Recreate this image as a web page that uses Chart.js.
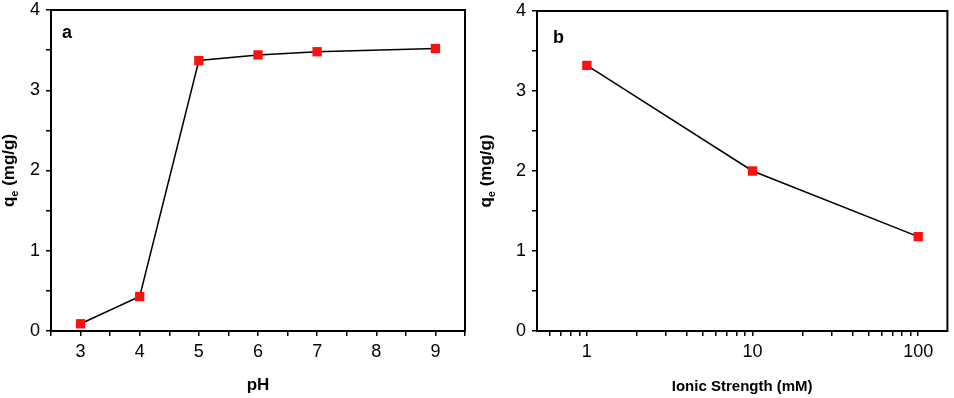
<!DOCTYPE html>
<html>
<head>
<meta charset="utf-8">
<script src="https://cdn.jsdelivr.net/npm/chart.js@4.4.1/dist/chart.umd.min.js"></script>
<style>
html, body { margin: 0; padding: 0; background: #fff; }
#wrap { position: relative; width: 954px; height: 398px; }
.box { position: absolute; top: 0; height: 398px; }
#boxA { left: 0; width: 480px; }
#boxB { left: 480px; width: 474px; }
</style>
</head>
<body>
<div id="wrap">
  <div class="box" id="boxA"><canvas id="chartA"></canvas></div>
  <div class="box" id="boxB"><canvas id="chartB"></canvas></div>
</div>
<script>
// panel a: qe vs pH
var phValues = [3, 4, 5, 6, 7, 9];
var qePh = [0.09, 0.43, 3.37, 3.44, 3.48, 3.52];
// panel b: qe vs ionic strength (log axis)
var ionicValues = [1, 10, 100];
var qeIonic = [3.32, 2.00, 1.18];
// tick labels
var yTickLabels = [0, 1, 2, 3, 4];
var phTickLabels = [3, 4, 5, 6, 7, 8, 9];
var ionicTickLabels = [1, 10, 100];

var FONT = '"Liberation Sans", Arial, sans-serif';

function toPoints(xs, ys) {
  return xs.map(function (x, i) { return { x: x, y: ys[i] }; });
}

// frame, panel letter and the y title with subscript
function decor(letter, lx, ly, titleX) {
  return {
    id: 'decor',
    afterDraw: function (chart) {
      var a = chart.chartArea;
      var ctx = chart.ctx;
      ctx.save();
      ctx.strokeStyle = '#000';
      ctx.lineWidth = 2;
      ctx.strokeRect(a.left, a.top, a.right - a.left, a.bottom - a.top);

      ctx.fillStyle = '#000';
      ctx.textBaseline = 'alphabetic';
      ctx.font = 'bold 18px ' + FONT;
      ctx.fillText(letter, a.left + lx, a.top + ly);

      // y axis title: q_e (mg/g)
      var big = 'bold 17px ' + FONT;
      var small = 'bold 11px ' + FONT;
      ctx.font = big;
      var wq = ctx.measureText('q').width;
      var wr = ctx.measureText(' (mg/g)').width;
      ctx.font = small;
      var we = ctx.measureText('e').width;
      var total = wq + we + wr;
      ctx.translate(titleX, (a.top + a.bottom) / 2);
      ctx.rotate(-Math.PI / 2);
      var x0 = -total / 2;
      ctx.font = big;
      ctx.fillText('q', x0, 0);
      ctx.font = small;
      ctx.fillText('e', x0 + wq, 4);
      ctx.font = big;
      ctx.fillText(' (mg/g)', x0 + wq + we, 0);
      ctx.restore();
    }
  };
}

function yScale(width) {
  return {
    type: 'linear',
    min: 0,
    max: 4,
    ticks: {
      stepSize: 0.5,
      color: '#000',
      padding: 6,
      font: { family: FONT, size: 18 },
      callback: function (v) { return yTickLabels.indexOf(v) >= 0 ? String(v) : ''; }
    },
    grid: { drawOnChartArea: false, color: '#000', lineWidth: 1.5, tickLength: 5 },
    border: { display: false },
    afterFit: function (s) {
      s.width = width;
      s.paddingTop = 0;
      s.paddingBottom = 0;
    }
  };
}

function xTitle(text, size) {
  return {
    display: true,
    text: text,
    color: '#000',
    font: { family: FONT, size: size, weight: 'bold' },
    padding: { top: 0, bottom: 2 }
  };
}

function fitX(s) {
  s.height = 67;
  s.paddingLeft = 0;
  s.paddingRight = 0;
}

var dataset = function (pts) {
  return {
    data: pts,
    borderColor: '#000',
    borderWidth: 1.5,
    backgroundColor: '#ff1010',
    pointBackgroundColor: '#ff1010',
    pointBorderColor: '#ff1010',
    pointBorderWidth: 0,
    pointStyle: 'rect',
    pointRadius: 6.6,
    pointHoverRadius: 6.6,
    tension: 0
  };
};

new Chart(document.getElementById('chartA'), {
  type: 'line',
  data: { datasets: [dataset(toPoints(phValues, qePh))] },
  options: {
    responsive: true,
    maintainAspectRatio: false,
    animation: false,
    layout: { padding: { top: 10, right: 15, left: 0, bottom: 0 } },
    plugins: { legend: { display: false }, tooltip: { enabled: false } },
    scales: {
      x: {
        type: 'linear',
        min: 2.5,
        max: 9.5,
        ticks: {
          stepSize: 0.5,
          color: '#000',
          padding: 5,
          maxRotation: 0,
          autoSkip: false,
          font: { family: FONT, size: 18 },
          callback: function (v) { return phTickLabels.indexOf(v) >= 0 ? String(v) : ''; }
        },
        grid: { drawOnChartArea: false, color: '#000', lineWidth: 1.5, tickLength: 5 },
        border: { display: false },
        title: xTitle('pH', 17),
        afterFit: fitX
      },
      y: yScale(51)
    }
  },
  plugins: [decor('a', 11, 28, 14)]
});

new Chart(document.getElementById('chartB'), {
  type: 'line',
  data: { datasets: [dataset(toPoints(ionicValues, qeIonic))] },
  options: {
    responsive: true,
    maintainAspectRatio: false,
    animation: false,
    layout: { padding: { top: 11, right: 4, left: 0, bottom: 0 } },
    plugins: { legend: { display: false }, tooltip: { enabled: false } },
    scales: {
      x: {
        type: 'logarithmic',
        min: 0.5,
        max: 150,
        afterBuildTicks: function (s) {
          var t = [];
          [0.6, 0.7, 0.8, 0.9].forEach(function (v) { t.push({ value: v }); });
          [1, 10].forEach(function (d) {
            for (var k = 1; k <= 9; k++) t.push({ value: d * k });
          });
          t.push({ value: 100 });
          s.ticks = t;
        },
        ticks: {
          color: '#000',
          padding: 5,
          maxRotation: 0,
          autoSkip: false,
          font: { family: FONT, size: 18 },
          callback: function (v) { return ionicTickLabels.indexOf(v) >= 0 ? String(v) : ''; }
        },
        grid: { drawOnChartArea: false, color: '#000', lineWidth: 1.5, tickLength: 5 },
        border: { display: false },
        title: xTitle('Ionic Strength (mM)', 15),
        afterFit: fitX
      },
      y: yScale(57)
    }
  },
  plugins: [decor('b', 16, 32, 11)]
});
</script>
</body>
</html>
